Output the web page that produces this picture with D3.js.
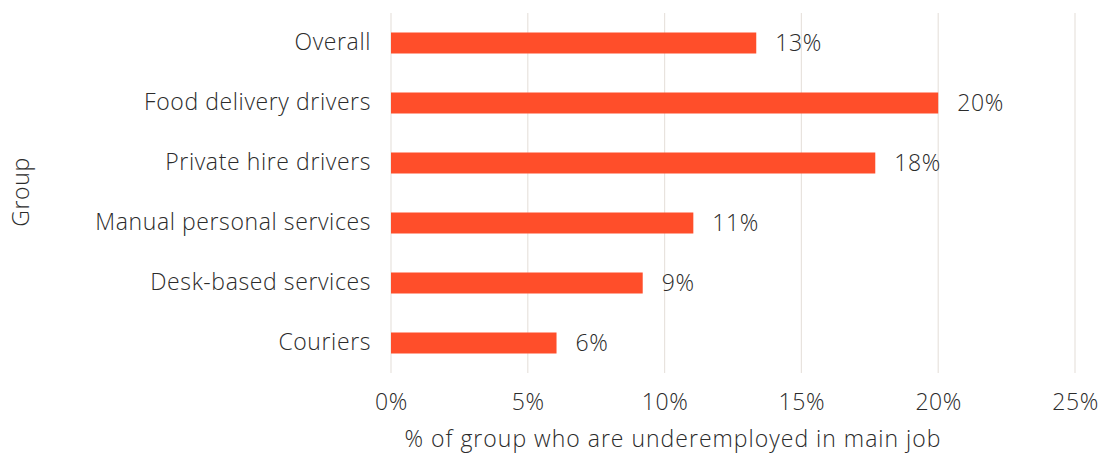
<!DOCTYPE html>
<html><head><meta charset="utf-8">
<script src="https://cdn.jsdelivr.net/npm/d3@7"></script>
<style>body{margin:0;background:#fff}svg text{font-family:"Open Sans",Lato,sans-serif;font-weight:300;fill:#2b2b2b;letter-spacing:0.6px}</style>
</head><body><svg id="c" width="1108" height="454"></svg>
<script>
const categories = ["Overall","Food delivery drivers","Private hire drivers","Manual personal services","Desk-based services","Couriers"];
const values = [13.35, 20.0, 17.7, 11.05, 9.2, 6.05];
const valueLabels = ["13%","20%","18%","11%","9%","6%"];
const xTicks = [0,5,10,15,20,25];
const xTitle = "% of group who are underemployed in main job";
const yTitle = "Group";
const FONT = "'Open Sans'";
const FS = 23;

const svg = d3.select("#c");
const x = d3.scaleLinear().domain([0,25]).range([391,1075]);
const y = d3.scaleBand().domain(categories).range([13,373]).paddingInner(0.65).paddingOuter(0.325);

svg.append("g").selectAll("line").data(xTicks).join("line")
  .attr("x1",d=>x(d)).attr("x2",d=>x(d)).attr("y1",13).attr("y2",373)
  .attr("stroke","#e8e3de").attr("stroke-width",1.2);

svg.append("g").selectAll("rect").data(values).join("rect")
  .attr("x",x(0)).attr("y",(d,i)=>y(categories[i]))
  .attr("width",d=>x(d)-x(0)).attr("height",y.bandwidth())
  .attr("fill","#ff4e2a");

svg.append("g").selectAll("text").data(values).join("text")
  .attr("x",d=>x(d)+19).attr("y",(d,i)=>y(categories[i])+y.bandwidth()/2)
  .attr("dy","0.36em").attr("font-size",FS).text((d,i)=>valueLabels[i]);

const ya = d3.axisLeft(y).tickSize(0).tickPadding(20);
const gy = svg.append("g").attr("transform",`translate(${x(0)},0)`).call(ya);
gy.select(".domain").remove();
gy.selectAll("text").attr("font-size",FS).attr("fill","#2b2b2b").style("font-family",FONT).style("font-weight",300);

const xa = d3.axisBottom(x).tickValues(xTicks).tickFormat(d=>d+"%").tickSize(0).tickPadding(21);
const gx = svg.append("g").attr("transform","translate(0,373)").call(xa);
gx.select(".domain").remove();
gx.selectAll("text").attr("font-size",FS).attr("fill","#2b2b2b").style("font-family",FONT).style("font-weight",300);

svg.append("text").attr("x",673).attr("y",447).attr("text-anchor","middle").attr("font-size",FS)
  .style("letter-spacing","1.0px").text(xTitle);
svg.append("text").attr("transform","translate(29,192) rotate(-90)").attr("text-anchor","middle").attr("font-size",FS).text(yTitle);
</script></body></html>
